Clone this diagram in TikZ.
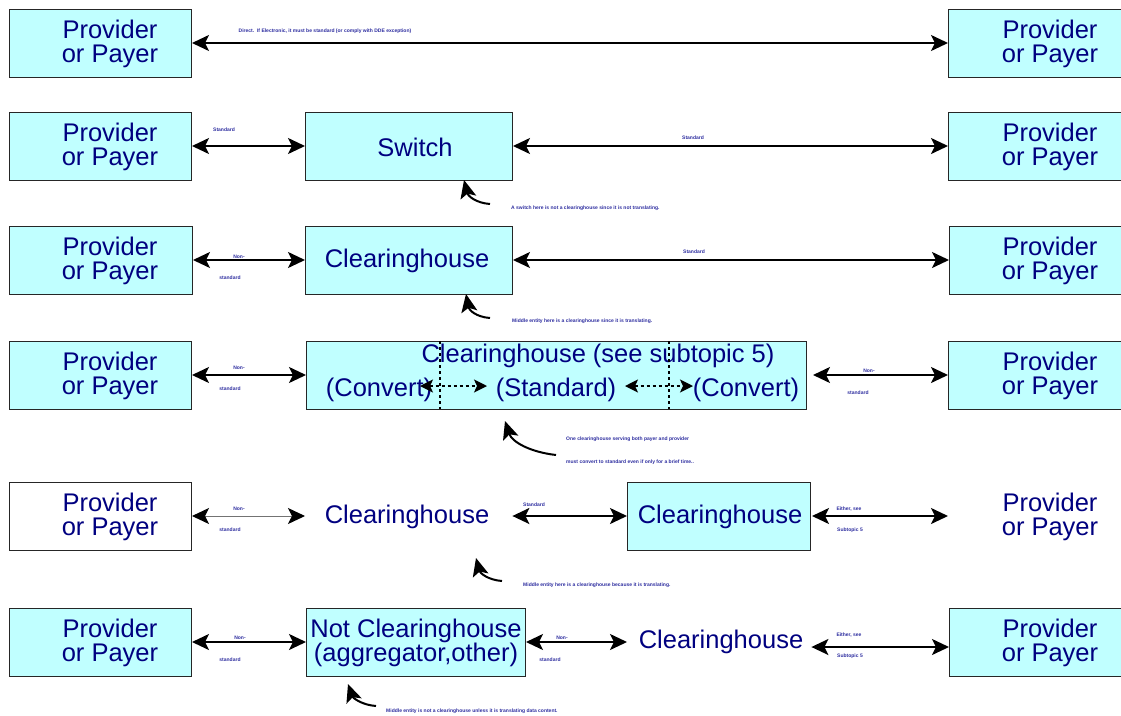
\documentclass[tikz,border=0pt]{standalone}
\usepackage{fontspec}
\setmainfont{Liberation Sans}
\usetikzlibrary{arrows.meta}
\definecolor{boxfill}{HTML}{C0FFFF}
\definecolor{bigtext}{HTML}{000080}
\definecolor{smalltext}{HTML}{2E2EA0}
\tikzset{
  box/.style={draw=black!85, line width=1pt, fill=boxfill, minimum height=68pt, inner sep=0pt, anchor=west},
  wbox/.style={box, fill=white},
  ghost/.style={minimum height=68pt, inner sep=0pt, anchor=west},
  big/.style={font=\fontsize{25.5}{24}\selectfont, text=bigtext, align=center, inner sep=0pt},
  small/.style={font=\fontsize{5}{6}\selectfont\bfseries, text=smalltext, inner sep=0pt},
  smallL/.style={small, anchor=west},
  dbl/.style={line width=2pt, {Stealth[length=17pt,width=16pt,inset=4pt]}-{Stealth[length=17pt,width=16pt,inset=4pt]}},
  thindbl/.style={line width=1pt, draw=black!55, {Stealth[length=17pt,width=16pt,inset=4pt,color=black]}-{Stealth[length=17pt,width=16pt,inset=4pt,color=black]}},
  dashdbl/.style={line width=1.4pt, dashed, {Stealth[length=13pt,width=13pt,inset=3pt]}-{Stealth[length=13pt,width=13pt,inset=3pt]}},
  curv/.style={line width=2pt, -{Stealth[length=18pt,width=16pt,inset=4pt]}},
  divider/.style={line width=1.4pt, dashed}
}
\begin{document}
\begin{tikzpicture}[x=1pt,y=-1pt]
\useasboundingbox (0,0) rectangle (1121,715);
\clip (0,0) rectangle (1121,715);
\fill[white] (0,0) rectangle (1121,715);

% ---------- Row 1 ----------
\node[box, minimum width=182pt] (L1) at (9,43) {};
\node[big] (L1t) at (110,44) {Provider\\or Payer};
\node[box, minimum width=182pt] (R1) at (948,43) {};
\node[big] (R1t) at (1050,44) {Provider\\or Payer};
\draw[dbl] (L1.east) -- (R1.west);
\node[small] (c1) at (325,31) {Direct.\ \ If Electronic, it must be standard (or comply with DDE exception)};

% ---------- Row 2 ----------
\node[box, minimum width=182pt] (L2) at (9,146) {};
\node[big] (L2t) at (110,147) {Provider\\or Payer};
\node[box, minimum width=207pt] (S2) at (305,146) {};
\node[big] (S2t) at (415,147) {Switch};
\node[box, minimum width=182pt] (R2) at (948,146) {};
\node[big] (R2t) at (1050,147) {Provider\\or Payer};
\draw[dbl] (L2.east) -- (S2.west);
\draw[dbl] (S2.east) -- (R2.west);
\node[small] (l2a) at (224,130) {Standard};
\node[small] (l2b) at (693,138) {Standard};
\coordinate (t2a) at (490,204);
\coordinate (t2b) at (464,180);
\draw[curv] (t2a) .. controls (476,203) and (468,196) .. (t2b);
\node[smallL] (c2) at (511,208) {A switch here is not a clearinghouse since it is not translating.};

% ---------- Row 3 ----------
\node[box, minimum width=183pt] (L3) at (9,260) {};
\node[big] (L3t) at (110,261) {Provider\\or Payer};
\node[box, minimum width=207pt] (C3) at (305,260) {};
\node[big] (C3t) at (407,261) {Clearinghouse};
\node[box, minimum width=182pt] (R3) at (949,260) {};
\node[big] (R3t) at (1050,261) {Provider\\or Payer};
\draw[dbl] (L3.east) -- (C3.west);
\draw[dbl] (C3.east) -- (R3.west);
\node[small] (l3a) at (239,257) {Non-};
\node[small] (l3b) at (230,278) {standard};
\node[small] (l3c) at (694,252) {Standard};
\coordinate (t3a) at (490,318);
\coordinate (t3b) at (466,294);
\draw[curv] (t3a) .. controls (476,317) and (469,310) .. (t3b);
\node[smallL] (c3) at (512,321) {Middle entity here is a clearinghouse since it is translating.};

% ---------- Row 4 ----------
\node[box, minimum width=182pt] (L4) at (9,375) {};
\node[big] (L4t) at (110,376) {Provider\\or Payer};
\node[box, minimum width=500pt] (C4) at (306,375) {};
\node[big] (C4t) at (598,356) {Clearinghouse (see subtopic 5)};
\node[big] (cv1) at (379,390) {(Convert)};
\node[big] (st4) at (556,390) {(Standard)};
\node[big] (cv2) at (746,390) {(Convert)};
\coordinate (d1t) at (440,341);
\coordinate (d1b) at (440,409);
\coordinate (d2t) at (669,341);
\coordinate (d2b) at (669,409);
\draw[divider] (d1t) -- (d1b);
\draw[divider] (d2t) -- (d2b);
\coordinate (a1l) at (420,386);
\coordinate (a1r) at (487,386);
\coordinate (a2l) at (625,386);
\coordinate (a2r) at (693,386);
\draw[dashdbl] (a1l) -- (a1r);
\draw[dashdbl] (a2l) -- (a2r);
\node[box, minimum width=182pt] (R4) at (948,375) {};
\node[big] (R4t) at (1050,376) {Provider\\or Payer};
\draw[dbl] (L4.east) -- (C4.west);
\draw[dbl] ([xshift=6pt]C4.east) -- (R4.west);
\node[small] (l4a) at (239,368) {Non-};
\node[small] (l4b) at (230,389) {standard};
\node[small] (l4c) at (869,371) {Non-};
\node[small] (l4d) at (858,393) {standard};
\coordinate (t4a) at (556,455);
\coordinate (t4b) at (505,421);
\draw[curv] (t4a) .. controls (530,452) and (512,442) .. (t4b);
\node[smallL] (c4a) at (566,439) {One clearinghouse serving both payer and provider};
\node[smallL] (c4b) at (566,462) {must convert to standard even if only for a brief time..};

% ---------- Row 5 ----------
\node[wbox, minimum width=182pt] (L5) at (9,516) {};
\node[big] (L5t) at (110,517) {Provider\\or Payer};
\node[ghost, minimum width=207pt] (C5) at (305,516) {};
\node[big] (C5t) at (407,517) {Clearinghouse};
\node[box, minimum width=183pt] (K5) at (627,516) {};
\node[big] (K5t) at (720,517) {Clearinghouse};
\node[ghost, minimum width=182pt] (R5) at (948,516) {};
\node[big] (R5t) at (1050,517) {Provider\\or Payer};
\draw[thindbl] (L5.east) -- (C5.west);
\draw[dbl] (C5.east) -- (K5.west);
\draw[dbl] ([xshift=1pt]K5.east) -- (R5.west);
\node[small] (l5a) at (239,509) {Non-};
\node[small] (l5b) at (230,530) {standard};
\node[small] (l5c) at (534,505) {Standard};
\node[small] (l5d) at (849,509) {Either, see};
\node[small] (l5e) at (850,530) {Subtopic 5};
\coordinate (t5a) at (502,581);
\coordinate (t5b) at (476,558);
\draw[curv] (t5a) .. controls (488,580) and (480,573) .. (t5b);
\node[smallL] (c5) at (523,585) {Middle entity here is a clearinghouse because it is translating.};

% ---------- Row 6 ----------
\node[box, minimum width=182pt] (L6) at (9,642) {};
\node[big] (L6t) at (110,643) {Provider\\or Payer};
\node[box, minimum width=219pt] (N6) at (306,642) {};
\node[big] (N6t) at (416,643) {Not Clearinghouse\\(aggregator,other)};
\node[ghost, minimum width=184pt] (C6) at (627,642) {};
\node[big] (C6t) at (721,642) {Clearinghouse};
\node[box, minimum width=182pt] (R6) at (949,642) {};
\node[big] (R6t) at (1050,643) {Provider\\or Payer};
\draw[dbl] (L6.east) -- (N6.west);
\draw[dbl] (N6.east) -- (C6.west);
\draw[dbl] ([yshift=-5pt]C6.east) -- ([yshift=-5pt]R6.west);
\node[small] (l6a) at (240,638) {Non-};
\node[small] (l6b) at (230,660) {standard};
\node[small] (l6c) at (562,638) {Non-};
\node[small] (l6d) at (550,660) {standard};
\node[small] (l6e) at (849,635) {Either, see};
\node[small] (l6f) at (850,656) {Subtopic 5};
\coordinate (t6a) at (376,706);
\coordinate (t6b) at (348,684);
\draw[curv] (t6a) .. controls (362,705) and (353,698) .. (t6b);
\node[smallL] (c6) at (386,711) {Middle entity is not a clearinghouse unless it is translating data content.};
\end{tikzpicture}
\end{document}
